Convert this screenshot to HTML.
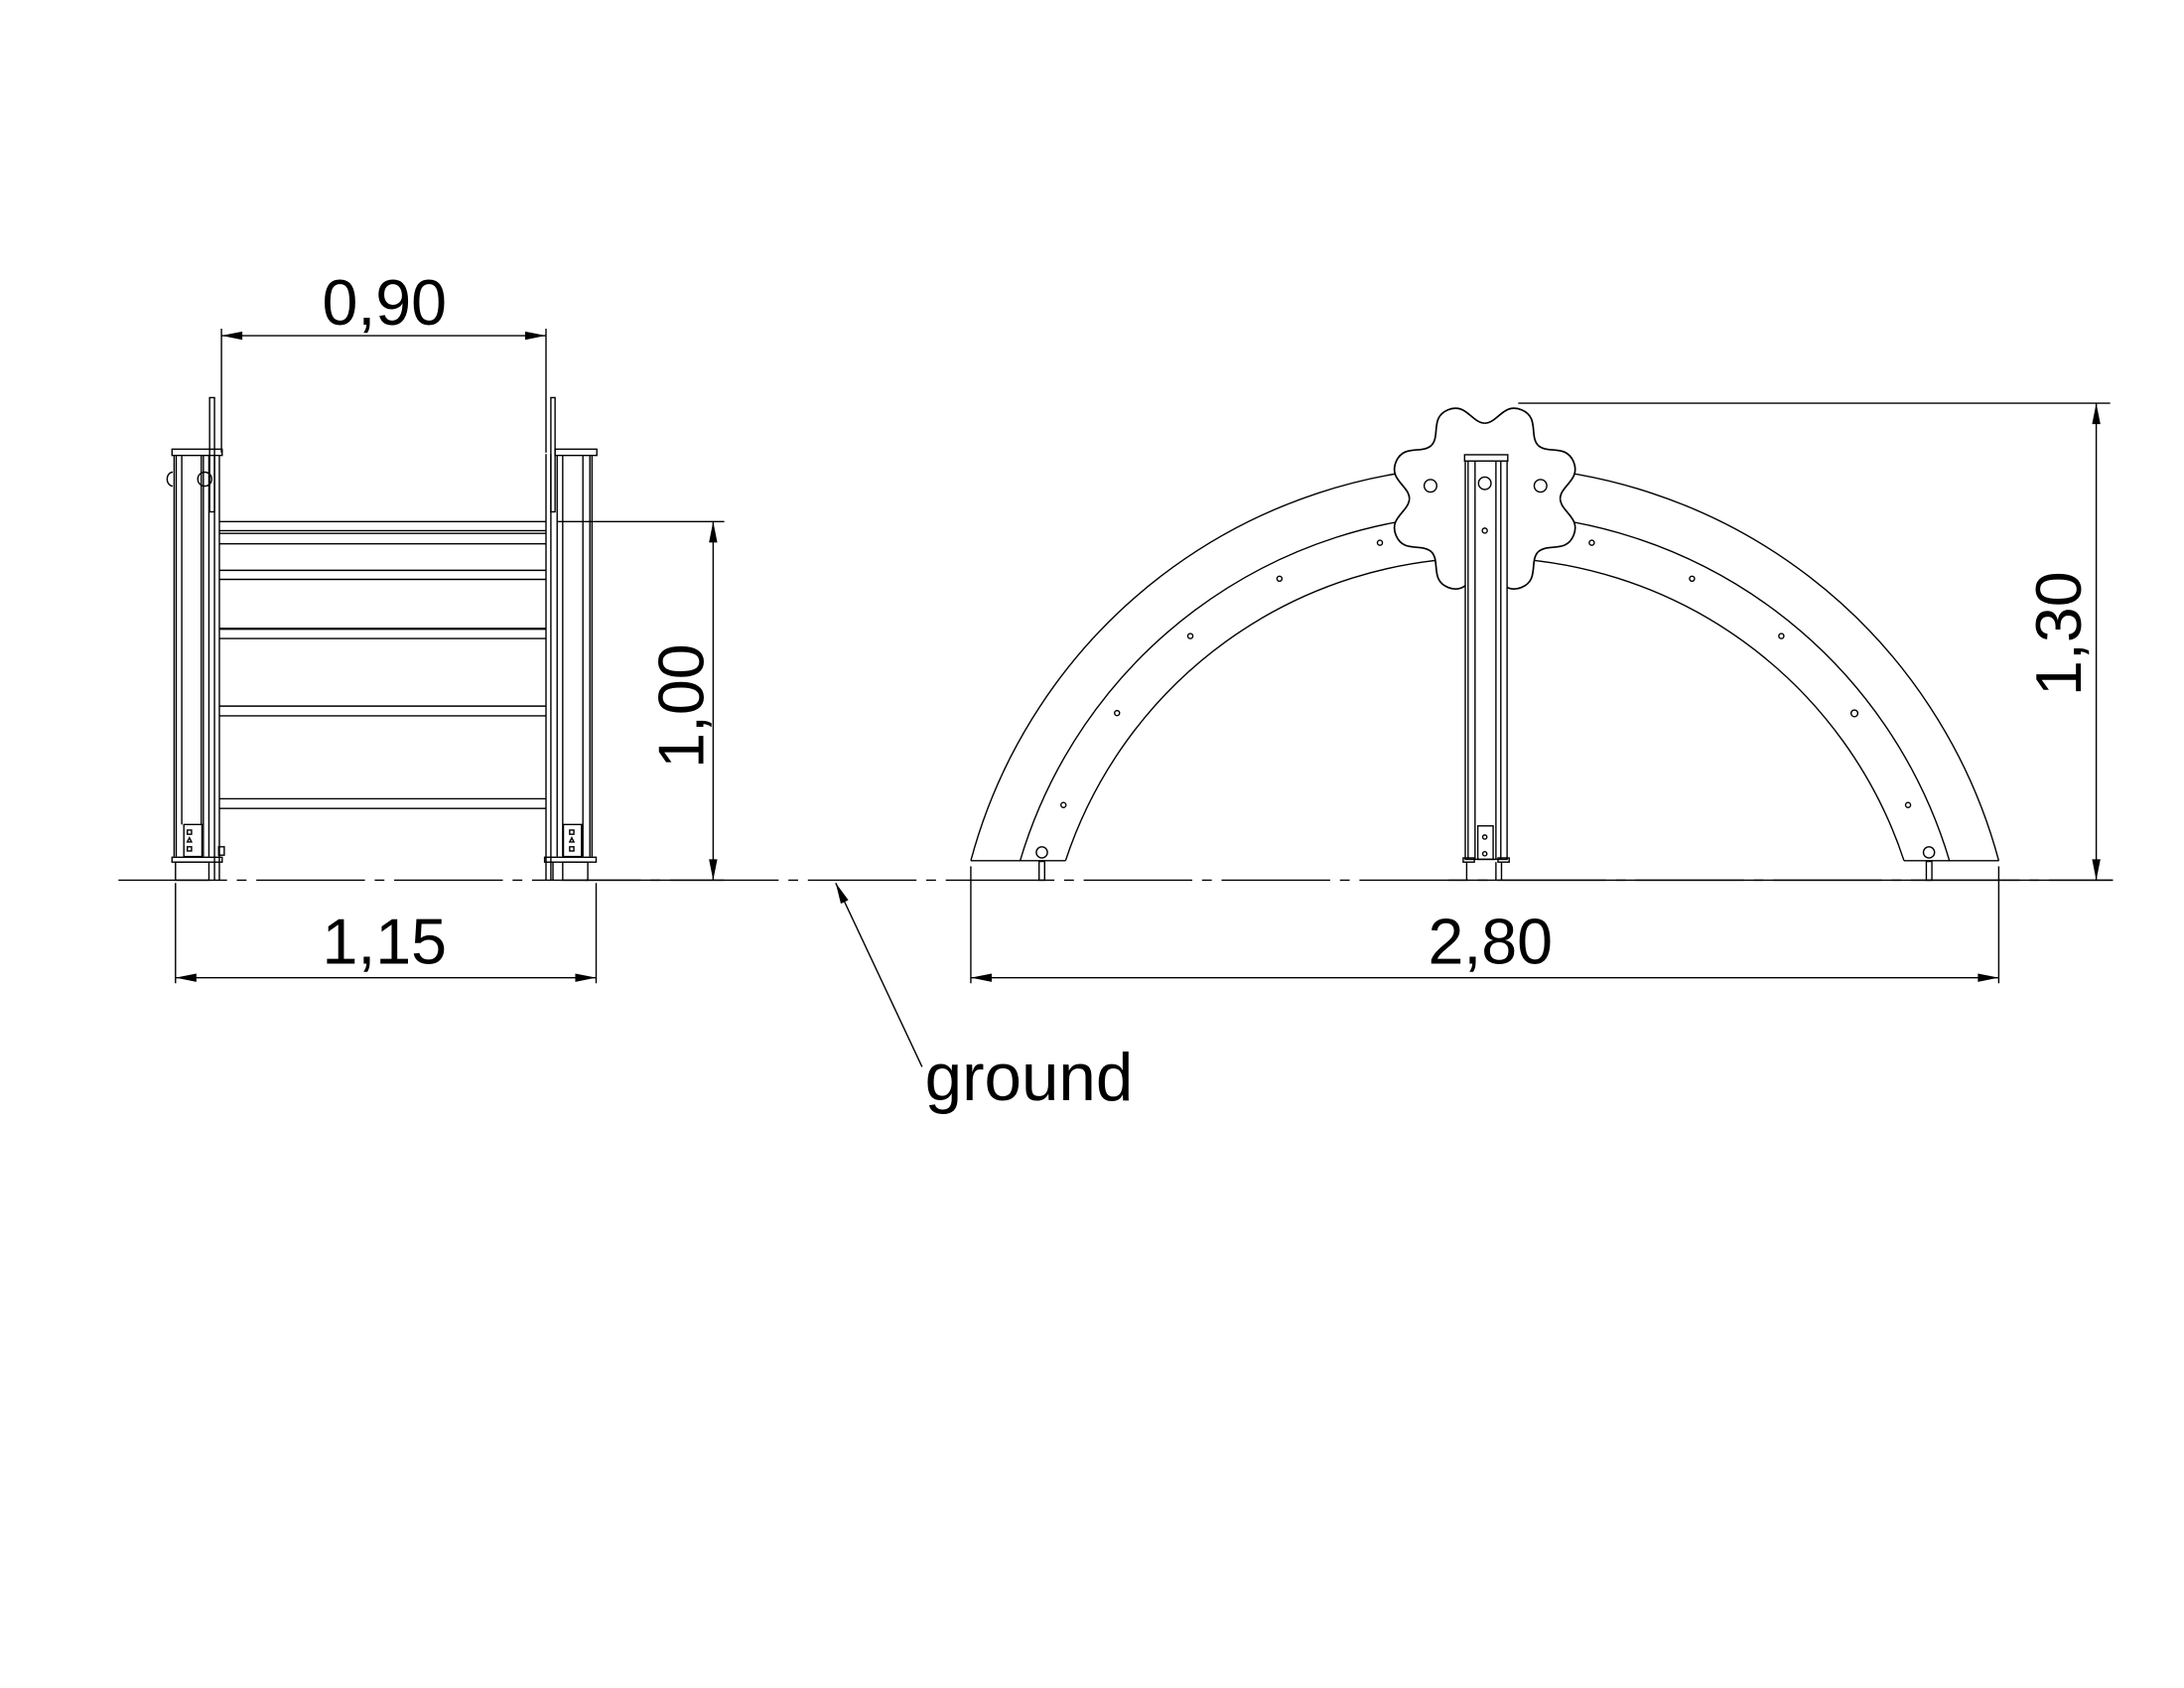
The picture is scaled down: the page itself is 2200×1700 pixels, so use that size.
<!DOCTYPE html>
<html><head><meta charset="utf-8"><style>
html,body{margin:0;padding:0;background:#fff}
svg{display:block}
text{font-family:"Liberation Sans",sans-serif;fill:#000}
</style></head><body>
<svg width="2200" height="1700" viewBox="0 0 1568 1212" preserveAspectRatio="none" xmlns="http://www.w3.org/2000/svg">
<defs>
<path id="ah" d="M0,0 L-15,-3 L-15,3 Z" fill="#000"/>
<g id="lobe">
  <path d="M0,0 L-20.7,-50 C-12,-54 -14,-69 0,-69 C14,-69 12,-54 20.7,-50 Z" fill="#fff"/>
  <path d="M-20.7,-50 C-12,-54 -14,-69 0,-69 C14,-69 12,-54 20.7,-50" fill="none" stroke="#000" stroke-width="1.2"/>
</g>
</defs>
<g stroke="#000" fill="none" stroke-width="1">

<!-- ground line -->
<line x1="85" y1="632" x2="1517" y2="632" stroke-dasharray="78 7 7 7"/>
<line x1="420" y1="632" x2="520" y2="632"/>
<line x1="1040" y1="632" x2="1517" y2="632"/>

<!-- ===== LEFT VIEW ===== -->
<rect x="123.5" y="322.5" width="36" height="4.5"/>
<line x1="125" y1="327" x2="125" y2="615"/>
<line x1="126.5" y1="327" x2="126.5" y2="615"/>
<line x1="130.5" y1="327" x2="130.5" y2="592"/>
<line x1="144.5" y1="327" x2="144.5" y2="592"/>
<line x1="146" y1="327" x2="146" y2="615"/>
<line x1="150" y1="327" x2="150" y2="615"/>
<rect x="150.5" y="285.5" width="3.5" height="82"/>
<line x1="154" y1="327" x2="154" y2="632"/>
<line x1="157.5" y1="327" x2="157.5" y2="632"/>
<rect x="132" y="592" width="13" height="23"/>
<rect x="134.5" y="596" width="3" height="3"/>
<rect x="134.5" y="608" width="3" height="3"/>
<path d="M136,601.5 L134.5,604.5 L137.5,604.5 Z"/>
<rect x="123.5" y="615.5" width="36" height="3.5"/>
<rect x="126" y="619" width="24" height="13"/>
<path d="M124,339 a4,5 0 0 0 0,10"/>
<circle cx="147" cy="344" r="5"/>
<rect x="157" y="608" width="4" height="6"/>
<g>
<line x1="157.5" y1="374.5" x2="392" y2="374.5"/>
<line x1="157.5" y1="381" x2="392" y2="381"/>
<line x1="157.5" y1="383" x2="392" y2="383"/>
<line x1="157.5" y1="390.5" x2="392" y2="390.5"/>
<line x1="157.5" y1="409.5" x2="392" y2="409.5"/>
<line x1="157.5" y1="416" x2="392" y2="416"/>
<line x1="157.5" y1="451.5" x2="392" y2="451.5" stroke-width="1.6"/>
<line x1="157.5" y1="458.5" x2="392" y2="458.5"/>
<line x1="157.5" y1="507" x2="392" y2="507"/>
<line x1="157.5" y1="514" x2="392" y2="514"/>
<line x1="157.5" y1="573.5" x2="392" y2="573.5"/>
<line x1="157.5" y1="580.5" x2="392" y2="580.5"/>
</g>
<line x1="392" y1="326" x2="392" y2="632"/>
<line x1="395.5" y1="326" x2="395.5" y2="632"/>
<rect x="395.5" y="285.5" width="3" height="82"/>
<rect x="398.5" y="322.5" width="30" height="4.5"/>
<line x1="400" y1="327" x2="400" y2="615"/>
<line x1="404" y1="327" x2="404" y2="615"/>
<line x1="418.5" y1="327" x2="418.5" y2="615"/>
<line x1="423.5" y1="327" x2="423.5" y2="615"/>
<line x1="425" y1="327" x2="425" y2="615"/>
<rect x="404.5" y="592" width="13" height="23"/>
<rect x="409" y="596" width="3" height="3"/>
<rect x="409" y="608" width="3" height="3"/>
<path d="M410.5,601.5 L409,604.5 L412,604.5 Z"/>
<rect x="391" y="615.5" width="37" height="3.5"/>
<rect x="404" y="619" width="18" height="13"/>
<line x1="397" y1="619" x2="397" y2="632"/>

<line x1="159" y1="236" x2="159" y2="325"/>
<line x1="392" y1="236" x2="392" y2="325"/>
<line x1="159" y1="241" x2="392" y2="241"/>
<line x1="400" y1="374.5" x2="520" y2="374.5"/>
<line x1="512" y1="374.5" x2="512" y2="632"/>
<line x1="126" y1="634" x2="126" y2="706"/>
<line x1="428" y1="634" x2="428" y2="706"/>
<line x1="126" y1="702" x2="428" y2="702"/>

<!-- ===== RIGHT VIEW ===== -->
<path d="M697,618 A382,382 0 0 1 1435,618"/>
<path d="M732.4,618 A348,348 0 0 1 1399.6,618"/>
<path d="M765,618 A317,317 0 0 1 1367,618"/>
<line x1="697" y1="618" x2="765" y2="618"/>
<line x1="1367" y1="618" x2="1435" y2="618"/>
<circle cx="748" cy="612" r="4"/><circle cx="763.5" cy="578" r="1.8"/>
<circle cx="802" cy="512" r="1.8"/><circle cx="854.6" cy="456.7" r="1.8"/>
<circle cx="918.6" cy="415.5" r="1.8"/><circle cx="990.7" cy="389.7" r="1.8"/>
<circle cx="1142.8" cy="389.7" r="1.8"/><circle cx="1214.8" cy="415.5" r="1.8"/>
<circle cx="1278.9" cy="456.7" r="1.8"/><circle cx="1331.4" cy="512.2" r="2.4"/>
<circle cx="1369.9" cy="578" r="1.8"/><circle cx="1384.9" cy="612" r="4"/>
<rect x="746" y="618.5" width="4" height="13.5"/>
<rect x="1383" y="618.5" width="4" height="13.5"/>
<line x1="697" y1="622" x2="697" y2="706"/>
<line x1="1435" y1="622" x2="1435" y2="706"/>
<line x1="697" y1="702" x2="1435" y2="702"/>
<line x1="1090" y1="289.5" x2="1515" y2="289.5"/>
<line x1="1505" y1="289.5" x2="1505" y2="632"/>
</g>

<!-- flower -->
<g transform="translate(1066,358)">
  <circle r="52" fill="#fff"/>
  <use href="#lobe" transform="rotate(22.5)"/><use href="#lobe" transform="rotate(67.5)"/>
  <use href="#lobe" transform="rotate(112.5)"/><use href="#lobe" transform="rotate(157.5)"/>
  <use href="#lobe" transform="rotate(202.5)"/><use href="#lobe" transform="rotate(247.5)"/>
  <use href="#lobe" transform="rotate(292.5)"/><use href="#lobe" transform="rotate(337.5)"/>
</g>

<g stroke="#000" fill="none" stroke-width="1">
<circle cx="1027" cy="348.8" r="4.5"/>
<circle cx="1106" cy="348.8" r="4.5"/>
<rect x="1052" y="331" width="30" height="286" fill="#fff"/>
<rect x="1051.5" y="326.5" width="31" height="4.5" fill="#fff"/>
<line x1="1054" y1="331" x2="1054" y2="617"/>
<line x1="1059" y1="331" x2="1059" y2="617"/>
<line x1="1074" y1="331" x2="1074" y2="617"/>
<line x1="1077.5" y1="331" x2="1077.5" y2="617"/>
<circle cx="1066" cy="347" r="4.5"/>
<circle cx="1066" cy="381" r="1.8"/>
<rect x="1061" y="593" width="11" height="24"/>
<circle cx="1066" cy="601" r="1.5"/><circle cx="1066" cy="613" r="1.5"/>
<rect x="1050.5" y="616" width="8" height="3"/>
<rect x="1075.5" y="616" width="8" height="3"/>
<line x1="1053" y1="619" x2="1053" y2="632"/>
<line x1="1074" y1="619" x2="1074" y2="632"/>
<line x1="1078" y1="619" x2="1078" y2="632"/>
<line x1="600" y1="634" x2="662" y2="766"/>
</g>

<use href="#ah" transform="translate(159,241) rotate(180)"/>
<use href="#ah" transform="translate(392,241)"/>
<use href="#ah" transform="translate(512,374.5) rotate(-90)"/>
<use href="#ah" transform="translate(512,632) rotate(90)"/>
<use href="#ah" transform="translate(126,702) rotate(180)"/>
<use href="#ah" transform="translate(428,702)"/>
<use href="#ah" transform="translate(697,702) rotate(180)"/>
<use href="#ah" transform="translate(1435,702)"/>
<use href="#ah" transform="translate(1505,289.5) rotate(-90)"/>
<use href="#ah" transform="translate(1505,632) rotate(90)"/>
<use href="#ah" transform="translate(600,634) rotate(244.8)"/>

<text x="276" y="233" font-size="46" text-anchor="middle">0,90</text>
<text x="276" y="692" font-size="46" text-anchor="middle">1,15</text>
<text x="1070" y="692" font-size="46" text-anchor="middle">2,80</text>
<text transform="translate(505,507) rotate(-90)" font-size="46" text-anchor="middle">1,00</text>
<text transform="translate(1494,455) rotate(-90)" font-size="46" text-anchor="middle">1,30</text>
<text x="664" y="790" font-size="48">ground</text>
</svg>
</body></html>
